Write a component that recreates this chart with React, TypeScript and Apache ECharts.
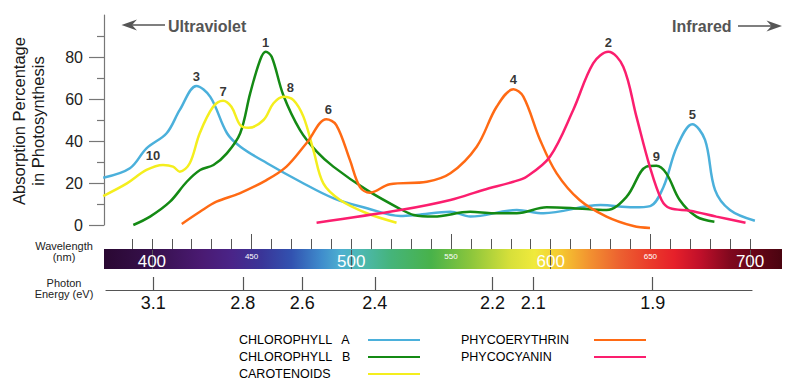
import React, { useEffect, useRef } from 'react';
import * as echarts from 'echarts';

// ---- data (wavelength nm, absorption %) ----
const chlorophyllA: [number, number][] = [
  [375.6, 22.5], [389, 27], [397.3, 36.5], [407.4, 43.7], [414, 54.8], [422.3, 66.2], [429.3, 61],
  [437.7, 43.7], [444.4, 37.3], [457.8, 29.4], [474.5, 20.6], [491.2, 12.7], [507.9, 8], [524.6, 4.3],
  [532.9, 4.8], [549.7, 6.3], [559.7, 4], [583, 7.1], [596.4, 5.6], [625, 9.5], [641.5, 8.4],
  [649.9, 9], [656.6, 18.2], [663.3, 37.3], [671, 48], [677.4, 40.5], [682.4, 16.7], [689.9, 7.1], [702.4, 2],
];
const chlorophyllB: [number, number][] = [
  [390.7, 0], [399.1, 4], [409.1, 11.1], [417.5, 20.6], [424.2, 26.2], [430.9, 28.6], [437.6, 34.1],
  [444.3, 43.7], [449.3, 62.7], [454.3, 78.6], [457.1, 82.5], [460.1, 80.1], [465.9, 61.9], [474.3, 45.2],
  [482.7, 34.9], [491, 27.8], [507.7, 16.7], [524.6, 7.6], [531.3, 4.8], [541.3, 4], [559.6, 6.3],
  [571.3, 5.6], [583, 5.6], [598, 8.4], [611.3, 8], [628, 7.1], [638.1, 13.5], [648, 27.8], [653, 28.2],
  [658, 24.6], [664.7, 11.9], [673.1, 4], [682.1, 1.6],
];
const carotenoids: [number, number][] = [
  [375.6, 13.8], [387.5, 19.8], [397.3, 26.2], [405.6, 28.6], [410.6, 27.8], [414, 25.4], [419, 29.4],
  [424, 43.7], [430.7, 56.3], [435.7, 59.2], [439.9, 56.3], [444.3, 47.6], [448.5, 46.3], [456, 50],
  [461, 58], [466, 61.1], [471, 59.5], [476, 51.6], [481, 35.7], [486, 19.8], [494.4, 11.9],
  [507.8, 5.6], [522.7, 1.1],
];
const phycoerythrin: [number, number][] = [
  [415, 0.5], [424.1, 6.3], [432.4, 11.1], [444, 15.1], [457.5, 21.4], [467.5, 27.8], [477.5, 38.9],
  [487.5, 50.3], [492.5, 47.6], [499.3, 31], [504.3, 18.2], [509.3, 15.4], [519.3, 19.4], [537.9, 20.6],
  [549.7, 24.6], [562.9, 37.3], [572.9, 56.3], [581.3, 64.6], [586.3, 61.1], [594.7, 40.5], [603, 24.6],
  [614.5, 11.9], [628, 4], [641.5, -0.5], [649.8, -1.4],
];
const phycocyanin: [number, number][] = [
  [482.6, 1.1], [524.6, 7.1], [549.7, 11.9], [566.2, 16.7], [581.3, 20.6], [587.9, 23], [599.6, 32.5],
  [611.3, 54.8], [621.3, 77], [628.9, 82.5], [636.4, 75.4], [643, 51.6], [649.7, 27.8], [655.6, 11.9],
  [659.8, 8], [669.8, 6.8], [683.1, 4], [697.7, 1.1],
];

const peakNames = ['1', '2', '3', '4', '5', '6', '7', '8', '9', '10'];
const peakWavelengths = [457.1, 628.9, 422.3, 581.3, 671, 487.5, 435.7, 466, 653, 405.6];
const peakValues = [82.5, 82.5, 66.2, 64.6, 48, 50.3, 59.2, 61.1, 28.2, 28.6];

const yTicks = [0, 20, 40, 60, 80];
const wavelengthMajor = [400, 500, 600, 700];
const wavelengthMid = [450, 550, 650];
const wavelengthMinor = [390, 400, 410, 420, 430, 440, 450, 460, 470, 480, 490, 500, 510, 520, 530, 540,
  550, 560, 570, 580, 590, 600, 610, 620, 630, 640, 650, 660, 670, 680, 690, 700];
const energyLabels = ['3.1', '2.8', '2.6', '2.4', '2.2', '2.1', '1.9'];
const energyPositions = [400.7, 445.6, 475.4, 511.8, 570.9, 591.3, 651.2];

const seriesNames = ['CHLOROPHYLL   A', 'CHLOROPHYLL   B', 'CAROTENOIDS', 'PHYCOERYTHRIN', 'PHYCOCYANIN'];
const seriesColors = ['#4bb0db', '#148a14', '#f4ee1e', '#ff6a14', '#fb1e6e'];

const FONT = '"Liberation Sans", Arial, Helvetica, sans-serif';

export default function App() {
  const ref = useRef<HTMLDivElement>(null);
  useEffect(() => {
    if (!ref.current) return;
    const chart = echarts.init(ref.current, undefined, { renderer: 'svg' });
    const WMIN = 376;
    const WMAX = 716;
    const lineData = [chlorophyllA, chlorophyllB, carotenoids, phycoerythrin, phycocyanin];
    const peakOffsets: Record<string, number[]> = { '8': [7, 0], '10': [-10, 0], '6': [2, 0] };

    const spectrum = new echarts.graphic.LinearGradient(0, 0, 1, 0, [
      [376, '#2a0832'], [400, '#36104c'], [425, '#4a1a72'], [440, '#4a2488'], [455, '#3a3598'],
      [470, '#3252b0'], [485, '#3f8ccc'], [495, '#4eb0d0'], [505, '#4db8b0'], [520, '#45b47a'],
      [540, '#48b24a'], [560, '#8cc63c'], [580, '#d8e03a'], [592, '#f0ea3c'], [605, '#f5c830'],
      [620, '#f29030'], [635, '#ec6030'], [650, '#ea3a2a'], [662, '#e6202a'], [675, '#c0102a'],
      [690, '#80081e'], [716, '#4a0410'],
    ].map(([w, c]) => ({ offset: ((w as number) - WMIN) / (WMAX - WMIN), color: c as string })));

    const legendCommon = {
      orient: 'vertical' as const,
      align: 'right' as const,
      icon: 'rect',
      itemWidth: 52,
      itemHeight: 2,
      itemGap: 4,
      selectedMode: false,
    };

    chart.setOption({
      animation: false,
      backgroundColor: '#ffffff',
      grid: [
        { left: 104, right: 18, top: 15, height: 210 },
        { left: 104, right: 18, top: 249, height: 20, show: true, backgroundColor: spectrum, borderWidth: 0 },
        { left: 106, right: 48, top: 276, height: 14 },
      ],
      xAxis: [
        { gridIndex: 0, type: 'value', min: WMIN, max: WMAX, show: false },
        {
          gridIndex: 1, type: 'value', min: WMIN, max: WMAX, position: 'top',
          axisLine: { show: false }, splitLine: { show: false },
          axisTick: { show: true, customValues: wavelengthMajor, length: 19, lineStyle: { color: '#555', width: 1 } },
          axisLabel: { customValues: wavelengthMajor, inside: true, margin: 4, color: '#ffffff', fontSize: 17, fontFamily: FONT },
        },
        {
          gridIndex: 1, type: 'value', min: WMIN, max: WMAX, position: 'top',
          axisLine: { show: false }, splitLine: { show: false },
          axisTick: { show: true, customValues: wavelengthMid, length: 15, lineStyle: { color: '#555', width: 1 } },
          axisLabel: { customValues: wavelengthMid, inside: true, margin: 3, color: '#ffffff', fontSize: 8, fontFamily: FONT },
        },
        {
          gridIndex: 1, type: 'value', min: WMIN, max: WMAX, position: 'top',
          axisLine: { show: false }, splitLine: { show: false },
          axisTick: { show: true, customValues: wavelengthMinor, length: 10, lineStyle: { color: '#555', width: 1 } },
          axisLabel: { show: false },
        },
        {
          gridIndex: 2, type: 'value', min: 377, max: 701, position: 'bottom',
          axisLine: { show: true, lineStyle: { color: '#555', width: 1.2 } }, splitLine: { show: false },
          axisTick: { show: true, inside: true, customValues: energyPositions, length: 13, lineStyle: { color: '#555', width: 1.2 } },
          axisLabel: {
            customValues: energyPositions, margin: 4, color: '#111', fontSize: 18, fontFamily: FONT,
            formatter: (v: number) => {
              let best = 0;
              energyPositions.forEach((p, i) => { if (Math.abs(p - v) < Math.abs(energyPositions[best] - v)) best = i; });
              return energyLabels[best];
            },
          },
        },
      ],
      yAxis: [
        {
          gridIndex: 0, type: 'value', min: 0, max: 100, interval: 20,
          axisLine: { show: true, lineStyle: { color: '#777', width: 1.2 } },
          axisTick: { show: true, customValues: yTicks, length: 15, lineStyle: { color: '#777', width: 1.2 } },
          minorTick: { show: true, splitNumber: 2, length: 7, lineStyle: { color: '#777', width: 1.2 } },
          splitLine: { show: false },
          axisLabel: { customValues: yTicks, margin: 21, color: '#222', fontSize: 16, fontFamily: FONT },
        },
        { gridIndex: 1, type: 'value', min: 0, max: 1, show: false },
        { gridIndex: 2, type: 'value', min: 0, max: 1, show: false },
      ],
      legend: [
        {
          ...legendCommon, left: 234, top: 328.5,
          data: seriesNames.slice(0, 3),
          formatter: (name: string) => `{t|${name}}`,
          textStyle: { rich: { t: { width: 124, align: 'left', fontSize: 12.5, lineHeight: 15, color: '#000', fontFamily: FONT } } },
        },
        {
          ...legendCommon, left: 456, top: 328.5,
          data: seriesNames.slice(3),
          formatter: (name: string) => `{t|${name}}`,
          textStyle: { rich: { t: { width: 128, align: 'left', fontSize: 12.5, lineHeight: 15, color: '#000', fontFamily: FONT } } },
        },
      ],
      series: [
        ...lineData.map((d, i) => ({
          name: seriesNames[i],
          type: 'line',
          xAxisIndex: 0,
          yAxisIndex: 0,
          data: d,
          smooth: 0.35,
          showSymbol: false,
          symbol: 'none',
          clip: false,
          color: seriesColors[i],
          lineStyle: { color: seriesColors[i], width: 2.5 },
          emphasis: { disabled: true },
        })),
        {
          type: 'scatter',
          xAxisIndex: 0,
          yAxisIndex: 0,
          symbolSize: 0,
          silent: true,
          itemStyle: { color: '#000' },
          data: peakNames.map((n, i) => ({
            name: n,
            value: [peakWavelengths[i], peakValues[i]],
            label: { offset: peakOffsets[n] || [0, 0] },
          })),
          label: {
            show: true, position: 'top', distance: 3,
            formatter: (p: any) => p.name,
            color: '#000', textBorderWidth: 0, fontSize: 13, fontWeight: 'bold', fontFamily: FONT,
          },
        },
      ],
      graphic: [
        {
          type: 'text', x: 28.5, y: 121, rotation: Math.PI / 2,
          style: {
            text: 'Absorption Percentage\nin Photosynthesis', align: 'center', verticalAlign: 'middle',
            fontSize: 16.5, lineHeight: 19, fontFamily: FONT, fill: '#1a1a1a',
          },
        },
        {
          type: 'text', x: 64, y: 251,
          style: { text: 'Wavelength\n(nm)', align: 'center', verticalAlign: 'middle', fontSize: 11, lineHeight: 11, fontFamily: FONT, fill: '#222' },
        },
        {
          type: 'text', x: 64, y: 288,
          style: { text: 'Photon\nEnergy (eV)', align: 'center', verticalAlign: 'middle', fontSize: 11, lineHeight: 11, fontFamily: FONT, fill: '#222' },
        },
        {
          type: 'text', x: 168, y: 26,
          style: { text: 'Ultraviolet', align: 'left', verticalAlign: 'middle', fontSize: 16, fontWeight: 'bold', fontFamily: FONT, fill: '#555' },
        },
        { type: 'line', shape: { x1: 126, y1: 25, x2: 165, y2: 25 }, style: { stroke: '#555', lineWidth: 1.5 } },
        { type: 'polygon', shape: { points: [[121.5, 25], [137, 19.5], [132, 25], [137, 30.5]] }, style: { fill: '#555' } },
        {
          type: 'text', x: 672, y: 26,
          style: { text: 'Infrared', align: 'left', verticalAlign: 'middle', fontSize: 16, fontWeight: 'bold', fontFamily: FONT, fill: '#555' },
        },
        { type: 'line', shape: { x1: 738, y1: 26, x2: 778, y2: 26 }, style: { stroke: '#555', lineWidth: 1.5 } },
        { type: 'polygon', shape: { points: [[782, 26], [766.5, 20.5], [771.5, 26], [766.5, 31.5]] }, style: { fill: '#555' } },
      ],
    });
    return () => chart.dispose();
  }, []);
  return <div ref={ref} style={{ width: 800, height: 391, position: 'absolute', left: 0, top: 0 }} />;
}
